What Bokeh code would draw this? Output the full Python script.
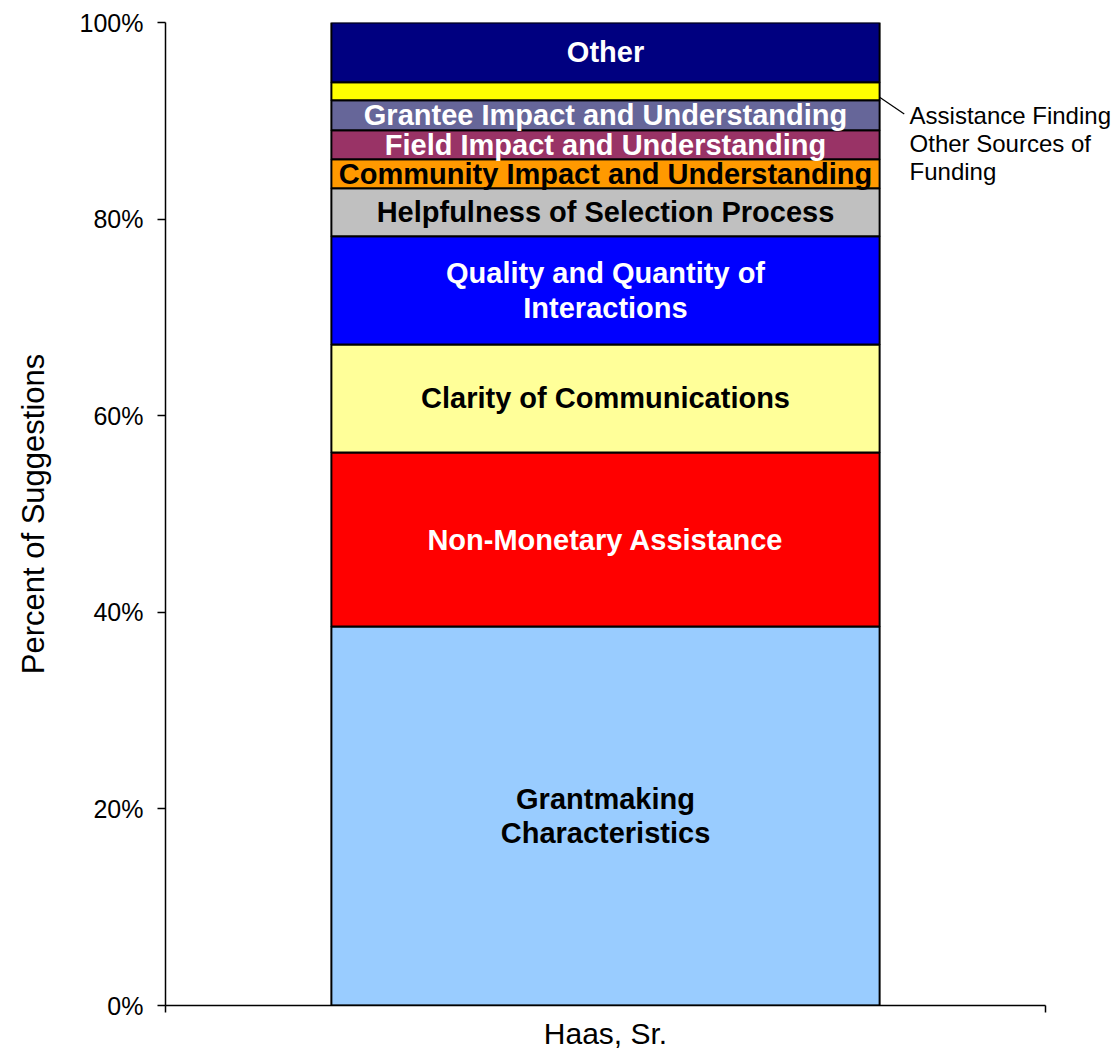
import numpy as np
from bokeh.plotting import figure
from bokeh.models import FixedTicker, Label, ColumnDataSource, Range1d
from bokeh.core.properties import value
from bokeh.embed import file_html
from bokeh.resources import INLINE

# ---- data ----
category = "Haas, Sr."
segments = [
    "Grantmaking\nCharacteristics",
    "Non-Monetary Assistance",
    "Clarity of Communications",
    "Quality and Quantity of\nInteractions",
    "Helpfulness of Selection Process",
    "Community Impact and Understanding",
    "Field Impact and Understanding",
    "Grantee Impact and Understanding",
    "Assistance Finding\nOther Sources of\nFunding",
    "Other",
]
percents = [38.55, 17.7, 11.0, 11.0, 4.9, 2.95, 2.95, 3.05, 1.83, 6.07]
fill_colors = ["#99CCFF", "#FF0000", "#FFFF99", "#0000FF", "#C0C0C0",
               "#FF9900", "#993366", "#666699", "#FFFF00", "#000080"]
label_colors = ["black", "white", "black", "white", "black",
                "black", "white", "white", "black", "white"]
inside_label = [True, True, True, True, True, True, True, True, False, True]
y_ticks = [0, 20, 40, 60, 80, 100]
y_tick_labels = ["0%", "20%", "40%", "60%", "80%", "100%"]

FONT = "Liberation Sans"

vals = np.array(percents)
tops = np.cumsum(vals)
bottoms = tops - vals
bar_x = 0.5
bar_w = 0.623

src = ColumnDataSource(dict(
    x=[bar_x] * len(vals), bottom=bottoms, top=tops, color=fill_colors,
))

# frame extends to the right beyond the category axis so the callout fits
x_end = 948 / 880
p = figure(frame_width=948, frame_height=983,
           x_range=Range1d(0, x_end), y_range=Range1d(0, 100),
           output_backend="svg", toolbar_location=None,
           min_border_left=165, min_border_top=22,
           min_border_right=0, min_border_bottom=37,
           background_fill_color="white", border_fill_color="white")
p.outline_line_color = None
p.xgrid.visible = False
p.ygrid.visible = False

p.vbar(x="x", width=bar_w, bottom="bottom", top="top", fill_color="color",
       line_color="black", line_width=2, source=src)

lab_idx = [i for i, f in enumerate(inside_label) if f]
lsrc = ColumnDataSource(dict(
    x=[bar_x] * len(lab_idx),
    y=[(bottoms[i] + tops[i]) / 2 for i in lab_idx],
    text=[segments[i] for i in lab_idx],
    color=[label_colors[i] for i in lab_idx],
))
p.text(x="x", y="y", text="text", text_color="color", source=lsrc,
       text_align="center", text_baseline="middle",
       text_font=value(FONT), text_font_style="bold",
       text_font_size="29px", text_line_height=1.08)

# callout for the thin segment
ai = 8
x0 = bar_x + bar_w / 2
y0 = bottoms[ai] + 0.3
p.segment(x0=[x0], y0=[y0], x1=[x0 + 0.028], y1=[y0 - 1.7],
          line_color="black", line_width=1.2)
p.add_layout(Label(x=x0 + 0.034, y=91.9, text=segments[ai],
                   text_font=FONT, text_font_size="24px",
                   text_baseline="top", text_align="left",
                   text_line_height=1.03, text_color="black"))

# y axis
ya = p.yaxis[0]
ya.ticker = FixedTicker(ticks=y_ticks)
ya.major_label_overrides = {t: l for t, l in zip(y_ticks, y_tick_labels)}
ya.major_label_text_font = FONT
ya.major_label_text_font_size = "25px"
ya.major_label_text_color = "black"
ya.major_tick_out = 8
ya.major_tick_in = 0
ya.minor_tick_out = 0
ya.minor_tick_in = 0
ya.major_label_standoff = 14
ya.axis_line_width = 1.5
ya.axis_line_color = "black"
ya.major_tick_line_width = 1.5
ya.axis_label = "Percent of Suggestions"
ya.axis_label_text_font = FONT
ya.axis_label_text_font_size = "31px"
ya.axis_label_text_font_style = "normal"
ya.axis_label_text_color = "black"
ya.axis_label_standoff = 26

# x axis (limited to the category span)
xa = p.xaxis[0]
xa.bounds = (0, 1)
xa.ticker = FixedTicker(ticks=[bar_x], minor_ticks=[0, 1])
xa.major_label_overrides = {bar_x: category}
xa.major_label_text_font = FONT
xa.major_label_text_font_size = "30px"
xa.major_label_text_color = "black"
xa.major_tick_out = 0
xa.major_tick_in = 0
xa.minor_tick_out = 7
xa.minor_tick_in = 0
xa.minor_tick_line_width = 1.5
xa.major_label_standoff = 4
xa.axis_line_width = 1.5
xa.axis_line_color = "black"

open("out.html", "w").write(file_html(p, INLINE))
